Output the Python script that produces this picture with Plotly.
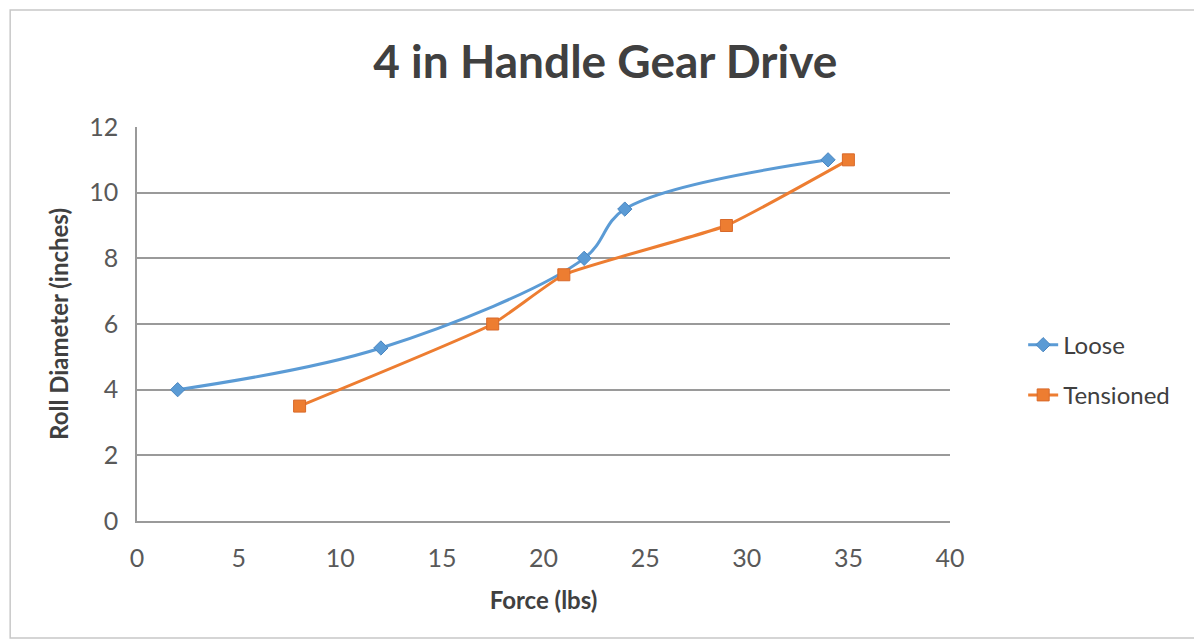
import plotly.graph_objects as go

loose_x = [2, 12, 22, 24, 34]
loose_y = [4, 5.27, 8, 9.5, 11]
tens_x = [8, 17.5, 21, 29, 35]
tens_y = [3.5, 6, 7.5, 9, 11]

x_ticks = [0, 5, 10, 15, 20, 25, 30, 35, 40]
y_ticks = [0, 2, 4, 6, 8, 10, 12]

FONT = "Lato"
fig = go.Figure()
fig.add_trace(go.Scatter(
    x=loose_x, y=loose_y, name="Loose", mode="lines+markers",
    line=dict(color="#5B9BD5", width=3, shape="spline", smoothing=1.0),
    marker=dict(symbol="diamond", size=11, color="#5B9BD5", line=dict(color="#4A86C0", width=1)),
    legendgroup="a",
))
fig.add_trace(go.Scatter(
    x=tens_x, y=tens_y, name="Tensioned", mode="lines+markers",
    line=dict(color="#ED7D31", width=3, shape="spline", smoothing=0.4),
    marker=dict(symbol="square", size=12, color="#ED7D31", line=dict(color="#D8692A", width=1)),
    legendgroup="b",
))

fig.update_layout(
    width=1194, height=636,
    margin=dict(l=129, r=252, t=119, b=123),
    paper_bgcolor="white", plot_bgcolor="white",
    title=dict(text="<b>4 in Handle Gear Drive</b>", x=0.576, xanchor="center",
               xref="paper", y=0.915, yanchor="middle",
               font=dict(family=FONT, size=46, color="#404040")),
    font=dict(family=FONT, color="#595959"),
    legend=dict(x=1.09, y=0.383, xanchor="left", yanchor="middle",
                font=dict(family=FONT, size=24, color="#404040"),
                tracegroupgap=16, bgcolor="rgba(0,0,0,0)"),
    showlegend=True,
)
fig.update_xaxes(range=[0, 40], tickvals=x_ticks, ticktext=[str(v) for v in x_ticks],
                 showgrid=False, zeroline=False, showline=True, linecolor="#9a9a9a", linewidth=1.5,
                 tickfont=dict(size=25, color="#595959"), ticks="", ticklabelstandoff=14,
                 title=dict(text="<b>Force (lbs)</b>", font=dict(size=24, color="#404040"), standoff=21))
fig.update_yaxes(range=[0, 12], tickvals=y_ticks, ticktext=[str(v) for v in y_ticks],
                 showgrid=True, gridcolor="#9a9a9a", gridwidth=1.5, zeroline=False,
                 showline=True, linecolor="#9a9a9a", linewidth=1.5,
                 tickfont=dict(size=25, color="#595959"), ticks="", ticklabelstandoff=12,
                 title=dict(text="<b>Roll Diameter (inches)</b>", font=dict(size=24, color="#404040"), standoff=14))

fig.add_shape(type="rect", xref="paper", yref="paper",
              x0=-0.156, x1=1.3026, y0=-0.297, y1=1.297,
              line=dict(color="#c8c8c8", width=1.5), layer="below")

fig.write_html("out.html")
